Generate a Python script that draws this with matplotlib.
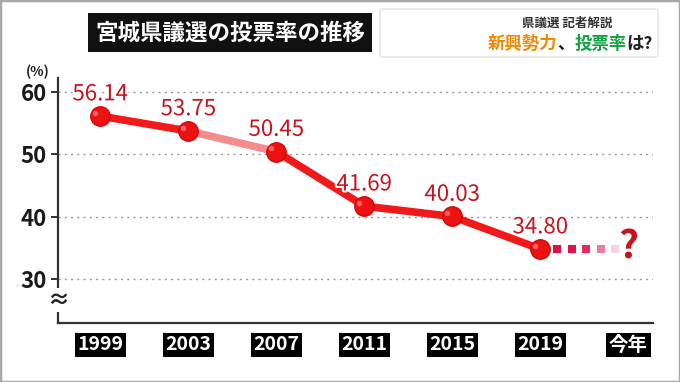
import numpy as np
import matplotlib
matplotlib.use("Agg")
import matplotlib.pyplot as plt
import matplotlib.patheffects as pe
from matplotlib.patches import Rectangle, FancyBboxPatch
from matplotlib.offsetbox import TextArea, HPacker, AnnotationBbox

plt.rcParams['font.family'] = ['Noto Sans CJK JP', 'DejaVu Sans']

# data
years = ['1999', '2003', '2007', '2011', '2015', '2019', '今年']
turnout = [56.14, 53.75, 50.45, 41.69, 40.03, 34.80]
yticks = [30, 40, 50, 60]
title = '宮城県議選の投票率の推移'
sub1 = '県議選 記者解説'
sub2 = [('新興勢力', '#f08800'), ('、', '#222222'), ('投票率', '#12a040'), ('は?', '#222222')]

red = '#f01a1a'
dark_red = '#c8121c'

fig = plt.figure(figsize=(6.8, 3.82), dpi=100)
fig.patch.set_facecolor('white')
ax = fig.add_axes([58/680, 1-323/382, (653-58)/680, (323-78)/382])
ax.set_xlim(-0.48, 6.28)
ax.set_ylim(22.94, 62.25)

x = np.arange(len(turnout))

# grid
for v in yticks:
    ax.axhline(v, color='#9a9a9a', lw=1.0, ls=(0, (1.5, 3)), zorder=1)

# line segments (2003-2007 drawn lighter)
for i in range(len(turnout) - 1):
    c = '#f48c8c' if i == 1 else red
    ax.plot(x[i:i+2], turnout[i:i+2], color=c, lw=5.5, solid_capstyle='round', zorder=3)

ax.plot(x, turnout, 'o', ms=14, color='#ec1212', mec='#d00a0a', mew=1, zorder=4)
ax.plot(x - 0.06, np.array(turnout) + 0.5, 'o', ms=4, color='#ff8080', mew=0, alpha=0.7, zorder=5)

for xi, v in zip(x, turnout):
    ax.annotate(f'{v:.2f}', (xi, v), xytext=(0, 16), textcoords='offset points',
                ha='center', va='center', fontsize=16, color=dark_red, zorder=6,
                path_effects=[pe.withStroke(linewidth=3, foreground='white')])

# dotted extension towards this year
x5, x6 = x[-1], len(years) - 1
sq_x = x5 + np.linspace(0.19, 0.85, 5) * (x6 - x5)
sq_c = ['#e0104a', '#e2124c', '#e42a5c', '#ee7f9c', '#f6d2dc']
ax.scatter(sq_x, [turnout[-1]] * 5, marker='s', s=34, c=sq_c, lw=0, zorder=3)
ax.text(x6, turnout[-1] + 0.4, '?', ha='center', va='center', fontsize=28,
        color=dark_red, fontweight='bold', zorder=6)

# axes styling
for s in ['top', 'right']:
    ax.spines[s].set_visible(False)
for s in ['left', 'bottom']:
    ax.spines[s].set_color('#333333')
    ax.spines[s].set_linewidth(1.6)

ax.set_yticks(yticks)
ax.set_yticklabels([str(v) for v in yticks], fontsize=16, fontweight='bold', color='#1a1a1a')
ax.tick_params(axis='y', length=5, width=1.4, color='#333333', pad=3)

ax.set_xticks(range(len(years)))
ax.set_xticklabels(years, fontsize=14, fontweight='bold', color='white')
ax.tick_params(axis='x', length=0, pad=9)
for lab in ax.get_xticklabels():
    lab.set_bbox(dict(facecolor='black', edgecolor='none', pad=2))

ax.text(-0.48, 26.6, '≈', ha='center', va='center', fontsize=16, color='#222222',
        fontweight='bold', zorder=7,
        bbox=dict(facecolor='white', edgecolor='none', pad=0.5))
fig.text(38/680, 1-72/382, '(%)', ha='center', va='center', fontsize=10,
         fontweight='bold', color='#222222')

# title
fig.patches.append(Rectangle((88/680, 1-52/382), (372-88)/680, 39/382,
                             transform=fig.transFigure, facecolor='#111111',
                             edgecolor='none', zorder=0))
fig.text(230/680, 1-33/382, title, ha='center', va='center', fontsize=16.2,
         fontweight='bold', color='white')

# caption box
fig.patches.append(FancyBboxPatch((380/680, 1-57/382), (658-380)/680, 48/382,
                                  boxstyle='round,pad=0,rounding_size=0.006',
                                  transform=fig.transFigure, facecolor='white',
                                  edgecolor='#e2e2e2', lw=1, zorder=0))
fig.text(567/680, 1-23/382, sub1, ha='center', va='center', fontsize=9,
         fontweight='bold', color='#333333')
parts = [TextArea(t, textprops=dict(color=c, fontsize=12.5, fontweight='bold')) for t, c in sub2]
box = HPacker(children=parts, pad=0, sep=0, align='baseline')
ab = AnnotationBbox(box, (570/680, 1-44/382), xycoords='figure fraction', frameon=False)
fig.add_artist(ab)

# frame
fig.patches.append(Rectangle((0, 0), 1, 1, transform=fig.transFigure, facecolor='none',
                             edgecolor='#a8a8a8', lw=2.5, zorder=10))

fig.savefig('out.png', dpi=100)
